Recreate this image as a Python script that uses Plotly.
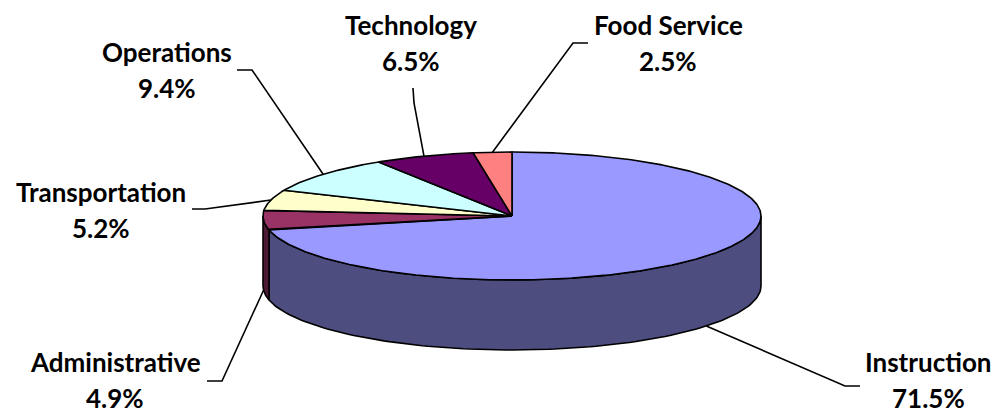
import numpy as np
import plotly.graph_objects as go

# ---- data ----
categories = ["Instruction", "Administrative", "Transportation", "Operations", "Technology", "Food Service"]
values = [71.5, 4.9, 5.2, 9.4, 6.5, 2.5]

# ---- style ----
top_colors = ["#9999FF", "#993366", "#FFFFCC", "#CCFFFF", "#660066", "#FF8080"]
side_colors = ["#4D4D80", "#4D1A33", "#80806A", "#6A8080", "#330033", "#804040"]

W, H = 996, 415
cx, cy = 512, 216          # pie centre (pixels)
rx, ry = 249, 64           # ellipse radii
depth = 70                 # pie thickness

# label placement (name line centre) and leader-line start/elbow
label_x = [928, 115, 101, 167, 411, 668]
label_y = [362, 362, 192, 52, 25, 25]
line_gap = 36
leader_start = [(860, 386), (207, 381), (192, 209), (237, 70), (413, 88), (588, 43)]
leader_elbow = [(845, 386), (222, 381), (205, 209), (252, 70), (414, 103), (573, 43)]
FONT = dict(family="Lato", size=26, color="black", weight="bold")


def ell(theta_deg, dy=0.0):
    t = np.radians(theta_deg)
    return cx + rx * np.sin(t), cy - ry * np.cos(t) + dy


total = sum(values)
cum = np.concatenate([[0], np.cumsum(values)]) / total * 360.0

fig = go.Figure()
OUT = dict(color="black", width=1.6)

# side faces (front half only: 90..270 deg clockwise from top)
for i in range(len(values)):
    a, b = cum[i], cum[i + 1]
    lo, hi = max(a, 90), min(b, 270)
    if hi <= lo:
        continue
    th = np.linspace(lo, hi, 120)
    xt, yt = ell(th)
    xb, yb = ell(th[::-1], depth)
    xs = np.concatenate([xt, xb, xt[:1]])
    ys = np.concatenate([yt, yb, yt[:1]])
    fig.add_trace(go.Scatter(x=xs, y=ys, mode="lines", fill="toself",
                             fillcolor=side_colors[i], line=OUT,
                             hoverinfo="skip", showlegend=False))

# top faces
for i in range(len(values)):
    a, b = cum[i], cum[i + 1]
    th = np.linspace(a, b, max(8, int((b - a) * 2)))
    xt, yt = ell(th)
    xs = np.concatenate([[cx], xt, [cx]])
    ys = np.concatenate([[cy], yt, [cy]])
    fig.add_trace(go.Scatter(x=xs, y=ys, mode="lines", fill="toself",
                             fillcolor=top_colors[i], line=OUT,
                             hoverinfo="skip", showlegend=False))

# leader lines and labels
annotations = []
for i, (name, v) in enumerate(zip(categories, values)):
    mid = (cum[i] + cum[i + 1]) / 2
    dy = depth if 90 < mid < 270 else 0
    ex, ey = ell(mid, dy)
    sx, sy = leader_start[i]
    kx, ky = leader_elbow[i]
    fig.add_trace(go.Scatter(x=[sx, kx, ex], y=[sy, ky, ey], mode="lines",
                             line=dict(color="black", width=1.6),
                             hoverinfo="skip", showlegend=False))
    annotations.append(dict(x=label_x[i], y=label_y[i], xref="x", yref="y",
                            text=name, showarrow=False, font=FONT, borderpad=0))
    annotations.append(dict(x=label_x[i], y=label_y[i] + line_gap, xref="x", yref="y",
                            text=f"{v:.1f}%", showarrow=False, font=FONT, borderpad=0))

fig.update_layout(
    width=W, height=H,
    margin=dict(l=0, r=0, t=0, b=0),
    paper_bgcolor="white", plot_bgcolor="white",
    xaxis=dict(range=[0, W], visible=False, fixedrange=True),
    yaxis=dict(range=[H, 0], visible=False, fixedrange=True),
    annotations=annotations,
)

fig.write_html("out.html", config={"displayModeBar": False},
               post_script="document.body.style.margin='0';document.body.style.overflow='hidden';")
